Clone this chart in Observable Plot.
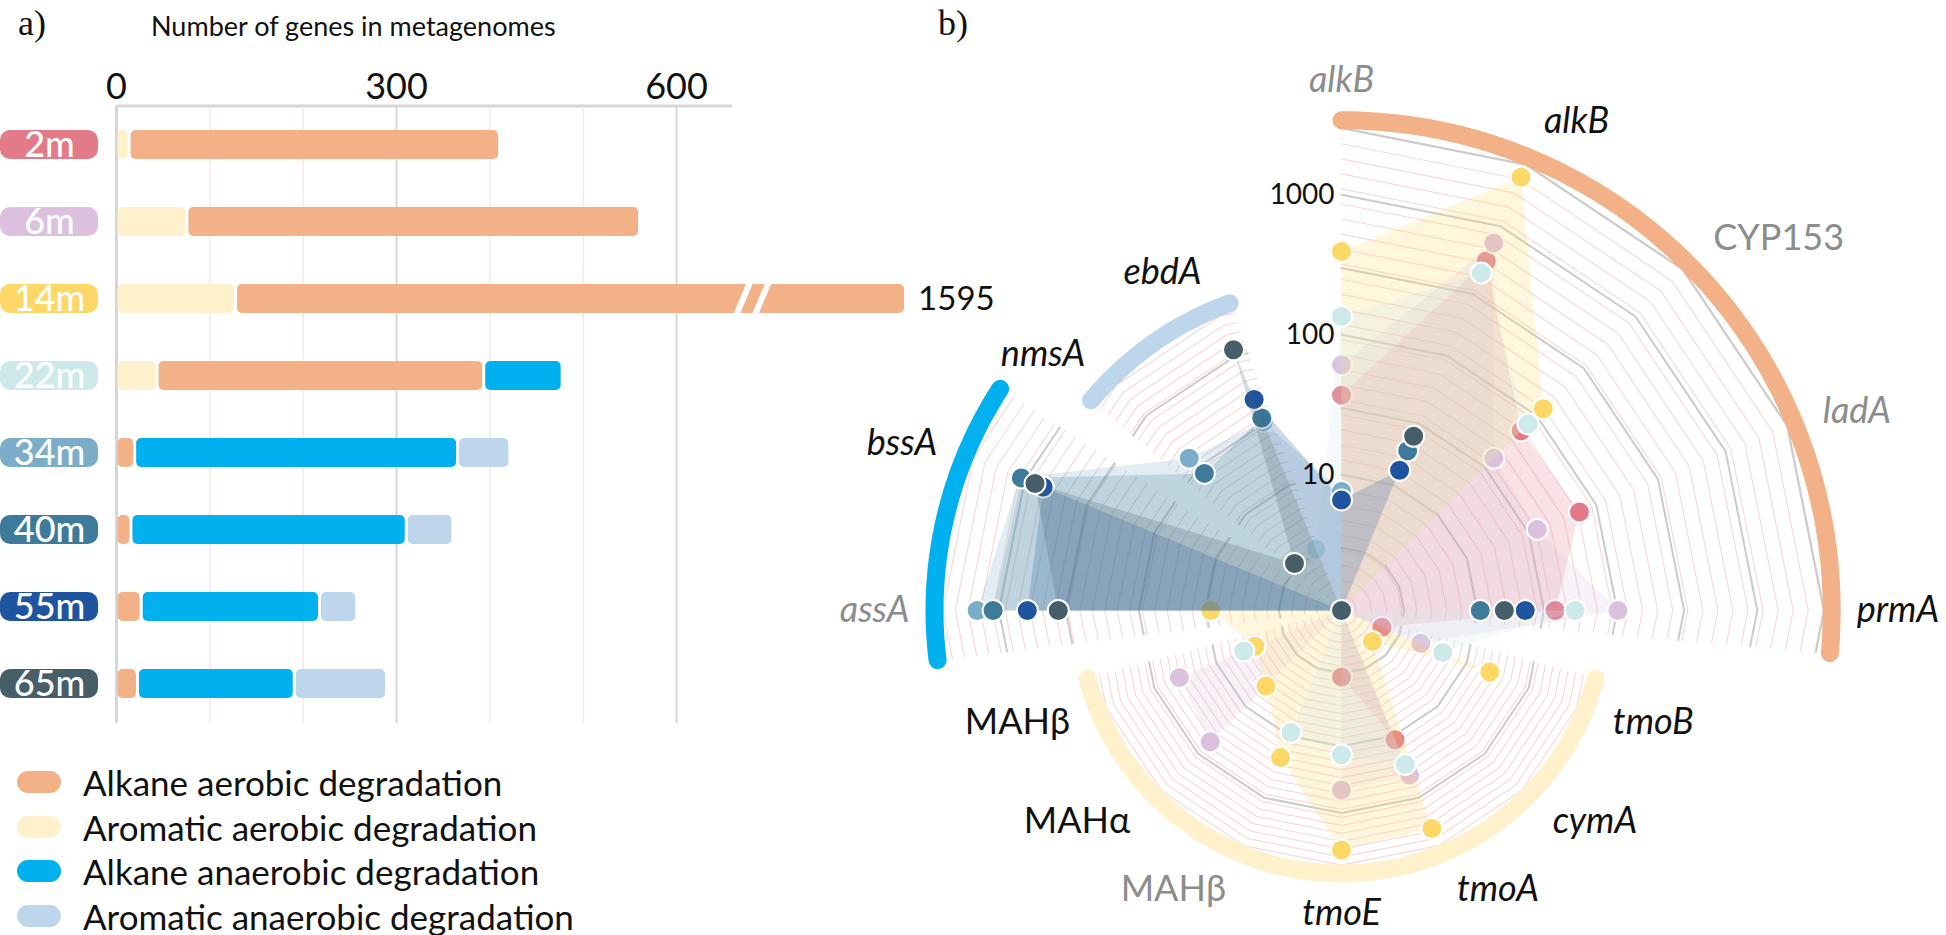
<!DOCTYPE html>
<html>
<head>
<meta charset="utf-8">
<script src="https://cdn.jsdelivr.net/npm/d3@7"></script>
<script src="https://cdn.jsdelivr.net/npm/@observablehq/plot@0.6"></script>
<style>
  html, body { margin: 0; padding: 0; background: #fff; }
  #root { position: relative; width: 1946px; height: 935px; overflow: hidden;
          font-family: Lato, "Noto Sans", sans-serif; color: #111; }
  .abs { position: absolute; }
  .plabel { font-family: "Liberation Serif", "DejaVu Serif", serif; font-size: 36px; line-height: 36px; }
  .title { font-size: 27px; line-height: 30px; white-space: nowrap; }
  .leg-row { position: absolute; left: 17px; height: 34px; display: flex; align-items: center; }
  .leg-sw { width: 44px; height: 22px; border-radius: 11px; margin-right: 22px; }
  .leg-tx { font-size: 35px; line-height: 34px; white-space: nowrap; }
</style>
</head>
<body>
<div id="root"></div>
<script>
// ---------------- DATA ----------------
const depths = ["2m", "6m", "14m", "22m", "34m", "40m", "55m", "65m"];
const depthColors = ["#e27a88", "#dcc1de", "#fdd867", "#cde9ea", "#7badc8", "#3e7b9a", "#1f55a0", "#465e67"];

const categories = ["Alkane aerobic degradation", "Aromatic aerobic degradation",
                    "Alkane anaerobic degradation", "Aromatic anaerobic degradation"];
const categoryColors = ["#f2b187", "#fff1cc", "#00b0ef", "#bed6ec"];

// panel a: number of genes per depth (stacked)
const alkaneAerobic     = [397, 485, 1467, 350, 20, 16, 27, 23];
const aromaticAerobic   = [14, 76, 128, 44, 0, 0, 0, 0];
const alkaneAnaerobic   = [0, 0, 0, 84, 346, 295, 191, 168];
const aromaticAnaerobic = [0, 0, 0, 0, 56, 50, 40, 99];
const xTicks = [0, 300, 600];
const xMinorTicks = [100, 200, 400, 500];

// panel b: genes (axes), their group, and per-depth counts (log radial scale)
const genes      = ["alkB", "alkB", "CYP153", "ladA", "prmA", "tmoB", "cymA", "tmoA", "tmoE",
                    "MAHβ", "MAHα", "MAHβ", "assA", "bssA", "nmsA", "ebdA"];
const geneGroup  = [0, 0, 0, 0, 0, 1, 1, 1, 1, 1, 1, 1, 2, 2, 3, 3];
const geneMuted  = [1, 0, 1, 1, 0, 0, 0, 0, 0, 1, 0, 0, 1, 0, 0, 0];
const geneItalic = [1, 1, 0, 1, 1, 1, 1, 1, 1, 0, 0, 0, 1, 1, 1, 1];
const radarTicks = [10, 100, 1000];
const groupExtent = [3400, 81, 865, 232];

const counts2m  = [37, 540, 70, 74, 36, 2.2, 0, 10.7, 3.2, 0, 0, 0, 0, 0, 0, 0];
const counts6m  = [61, 745, 37, 35, 101, 4.4, 0, 20, 20.5, 0, 22.7, 19.2, 0, 0, 0, 0];
const counts14m = [393, 2400, 117, 0, 0, 15, 2.2, 52, 55, 14.7, 6.2, 5.0, 9.2, 0, 0, 0];
const counts22m = [135, 435, 82, 0, 50, 6.5, 0, 16.6, 11.5, 9.4, 0, 6.1, 0, 0, 0, 3.2];
const counts34m = [7.6, 0, 0, 0, 0, 0, 0, 0, 0, 0, 0, 0, 429, 330, 37, 31];
const counts40m = [0, 18.4, 0, 0, 10.5, 0, 0, 0, 0, 0, 0, 0, 330, 320, 26, 33];
const counts55m = [6.6, 13, 0, 0, 22, 0, 0, 0, 0, 0, 0, 0, 188, 217, 0, 45.8];
const counts65m = [1, 23.8, 0, 0, 15.6, 0, 0, 0, 0, 0, 0, 0, 113, 251, 3.2, 111];
const radarCounts = [counts2m, counts6m, counts14m, counts22m, counts34m, counts40m, counts55m, counts65m];

// ---------------- LAYOUT ----------------
const root = document.getElementById("root");
function addDiv(cls, text, left, top) {
  const d = document.createElement("div");
  d.className = "abs " + cls; d.textContent = text;
  d.style.left = left + "px"; d.style.top = top + "px";
  root.appendChild(d); return d;
}
addDiv("plabel", "a)", 18, 5);
addDiv("plabel", "b)", 938, 5);
addDiv("title", "Number of genes in metagenomes", 151, 11);

// ---------------- PANEL A ----------------
const stackOrder = [1, 0, 2, 3]; // aromatic aerobic first, then alkane aerobic, ...
const series = [alkaneAerobic, aromaticAerobic, alkaneAnaerobic, aromaticAnaerobic];
const segments = depths.flatMap((depth, i) => {
  let acc = 0;
  return stackOrder.map(j => {
    const v = series[j][i];
    const s = {depth, category: categories[j], x1: acc, x2: acc + v};
    acc += v;
    return s;
  }).filter(s => s.x2 > s.x1);
});
const xMax = 660, breakStart = 640, brokenEnd = 846;
const maxTotal = d3.max(segments, s => s.x2);
const brk = v => v <= breakStart ? v : breakStart + (v - breakStart) * (brokenEnd - breakStart) / (maxTotal - breakStart);

const WA = 1000, HA = 760, MLA = 116, MRA = WA - 732, MTA = 106, MBA = HA - 723;
const kx = xMax / (WA - MLA - MRA);          // data units per px
const badgeX1 = -MLA * kx, badgeX2 = -(MLA - 98) * kx;

const colorDomain = [...categories, ...depths];
const colorRange = [...categoryColors, ...depthColors];

const barPlot = Plot.plot({
  width: WA, height: HA,
  marginLeft: MLA, marginRight: MRA, marginTop: MTA, marginBottom: MBA,
  style: {fontFamily: "Lato, 'Noto Sans', sans-serif", fontSize: "36px", background: "transparent", overflow: "visible", color: "#111"},
  x: {domain: [0, xMax], axis: "top", ticks: xTicks, tickSize: 0, tickPadding: 8, label: null},
  y: {domain: depths, range: [89.5, 738.3], paddingInner: 0.6257, paddingOuter: 0.5, axis: null},
  color: {domain: colorDomain, range: colorRange},
  marks: [
    Plot.ruleX(xMinorTicks, {stroke: "#fce6e6", strokeWidth: 1.5}),
    Plot.ruleX(xTicks, {stroke: "#d6d6d6", strokeWidth: d => d === 0 ? 3 : 2}),
    Plot.barX(depths, {x1: badgeX1, x2: badgeX2, y: d => d, fill: d => d, rx: 10}),
    Plot.text(depths, {x: (badgeX1 + badgeX2) / 2, y: d => d, text: d => d, fill: "white", fontSize: 36, fontWeight: 500}),
    Plot.barX(segments, {x1: s => brk(s.x1), x2: s => brk(s.x2), y: "depth", fill: "category",
                         rx: 5, insetLeft: 1.5, insetRight: 1.5}),
    Plot.text(segments.filter(s => s.x2 > breakStart), {x: s => brk(s.x2), y: "depth", text: s => String(s.x2),
                         textAnchor: "start", dx: 12, fontSize: 33, fill: "#111"})
  ]
});
(function decorate() {
  const sx = barPlot.scale("x"), sy = barPlot.scale("y");
  const svg = d3.select(barPlot);
  svg.insert("line", ":first-child")
    .attr("x1", sx.apply(0)).attr("x2", sx.apply(xMax))
    .attr("y1", MTA).attr("y2", MTA).attr("stroke", "#d6d6d6").attr("stroke-width", 3);
  segments.filter(s => s.x2 > breakStart).forEach(s => {
    const y0 = sy.apply(s.depth), bw = sy.bandwidth;
    [672, 692].forEach(v => {
      const x = sx.apply(v);
      svg.append("line").attr("x1", x + 7).attr("y1", y0 - 2).attr("x2", x - 7).attr("y2", y0 + bw + 2)
        .attr("stroke", "white").attr("stroke-width", 6);
    });
  });
})();
const divA = document.createElement("div");
divA.className = "abs"; divA.style.left = "0px"; divA.style.top = "0px";
divA.appendChild(barPlot);
root.appendChild(divA);

// legend
categories.forEach((c, i) => {
  const row = document.createElement("div");
  row.className = "leg-row";
  row.style.top = (765 + i * 44.5) + "px";
  row.innerHTML = `<div class="leg-sw" style="background:${categoryColors[i]}"></div><div class="leg-tx">${c}</div>`;
  root.appendChild(row);
});

// ---------------- PANEL B ----------------
const PX = 140, OFFSET = 0.03;
const WB = 1086, HB = 935, CX = 481, CY = 610;
const rho = v => v > 1 ? Math.max(0, Math.log10(v) - OFFSET) : 0;
const rad = d => d * Math.PI / 180;
const px = (a, r) => r * Math.sin(rad(a));
const py = (a, r) => r * Math.cos(rad(a));
const STEP = 360 / genes.length;
const groupSpan = [[0, 95], [105, 255], [263, 303], [310, 340]];
const RINGS = 32;

function polyFactor(phi) {
  const k = Math.floor(phi / STEP + 1e-9);
  const mid = (k + 0.5) * STEP;
  return Math.cos(rad(STEP / 2)) / Math.cos(rad(phi - mid));
}
function sectorRing(a0, a1, r) {
  const angs = [a0];
  for (let a = Math.ceil(a0 / STEP) * STEP; a < a1 - 1e-9; a += STEP) if (a > a0 + 1e-9) angs.push(a);
  angs.push(a1);
  return angs.map(a => ({a, r: r * polyFactor(a)}));
}

const majorRho = [3, 10, 30, 100, 300, 1000, 3000].map(rho);
const gridPink = [], gridGray = [];
groupSpan.forEach(([a0, a1], g) => {
  const rArc = rho(groupExtent[g]) - 0.06;
  for (let k = 1; k <= RINGS; k++) {
    const r = rArc * k / RINGS;
    sectorRing(a0, a1, r).forEach(p => gridPink.push({id: g + "-" + k, ...p}));
  }
  majorRho.filter(r => r < rArc + 0.02).forEach((r, k) =>
    sectorRing(a0, a1, r).forEach(p => gridGray.push({id: g + "-" + k, ...p})));
});

const arcs = [];
groupSpan.forEach(([a0, a1], g) => {
  const r = rho(groupExtent[g]);
  for (let a = a0; a <= a1 + 1e-9; a += 1) arcs.push({group: categories[g], a, r});
});

// label anchors: just outside each group's arc; text extends away from the centre
const LABEL_FS = 36, LABEL_GAP = 25, LABEL_H = 30;
const labels = genes.map((name, k) => {
  const a = k * STEP, s = Math.sin(rad(a));
  const d = rho(groupExtent[geneGroup[k]]) * PX + LABEL_GAP + (LABEL_H / 2) * Math.abs(Math.cos(rad(a)));
  const anchor = s > 0.2 ? "start" : s < -0.2 ? "end" : "middle";
  return {name, a, r: d / PX, anchor, italic: geneItalic[k], muted: geneMuted[k]};
});

const depthMarks = depths.flatMap((depth, i) => {
  const pts = radarCounts[i].map((v, k) => ({a: k * STEP, r: rho(v), v}));
  return [
    Plot.line(pts, {x: d => px(d.a, d.r), y: d => py(d.a, d.r), curve: "linear-closed",
                    fill: depthColors[i], fillOpacity: 0.22, stroke: "none"}),
    Plot.dot(pts.filter(d => d.v > 0), {x: d => px(d.a, d.r), y: d => py(d.a, d.r), r: 10.5,
                    fill: depthColors[i], stroke: "white", strokeWidth: 2})
  ];
});

const labelMarks = [];
for (const italic of [1, 0]) for (const muted of [1, 0]) for (const anchor of ["start", "end", "middle"]) {
  const sel = labels.filter(l => l.italic === italic && l.muted === muted && l.anchor === anchor);
  if (!sel.length) continue;
  labelMarks.push(Plot.text(sel, {
    x: d => px(d.a, d.r), y: d => py(d.a, d.r), text: "name", fontSize: LABEL_FS,
    fontStyle: italic ? "italic" : "normal", fill: muted ? "#8c8c8c" : "#111", textAnchor: anchor
  }));
}

const radarPlot = Plot.plot({
  width: WB, height: HB, margin: 0,
  style: {fontFamily: "Lato, 'Noto Sans', sans-serif", background: "transparent", overflow: "visible"},
  x: {domain: [-CX / PX, (WB - CX) / PX], range: [0, WB], axis: null},
  y: {domain: [-(HB - CY) / PX, CY / PX], range: [HB, 0], axis: null},
  color: {domain: colorDomain, range: colorRange},
  marks: [
    Plot.line(gridPink, {x: d => px(d.a, d.r), y: d => py(d.a, d.r), z: "id", stroke: "#f9d9d9", strokeWidth: 1.2, curve: "linear"}),
    Plot.line(gridGray, {x: d => px(d.a, d.r), y: d => py(d.a, d.r), z: "id", stroke: "#cbcbcb", strokeWidth: 2, curve: "linear"}),
    Plot.line(arcs, {x: d => px(d.a, d.r), y: d => py(d.a, d.r), z: "group", stroke: "group",
                     strokeWidth: 18, strokeLinecap: "round", curve: "linear"}),
    ...depthMarks,
    Plot.text(radarTicks, {x: 0, y: d => rho(d), text: d => String(d), textAnchor: "end", dx: -7, fontSize: 28, fill: "#111"}),
    ...labelMarks
  ]
});
const divB = document.createElement("div");
divB.className = "abs"; divB.style.left = (1341 - CX) + "px"; divB.style.top = "0px";
divB.appendChild(radarPlot);
root.appendChild(divB);
</script>
</body>
</html>
